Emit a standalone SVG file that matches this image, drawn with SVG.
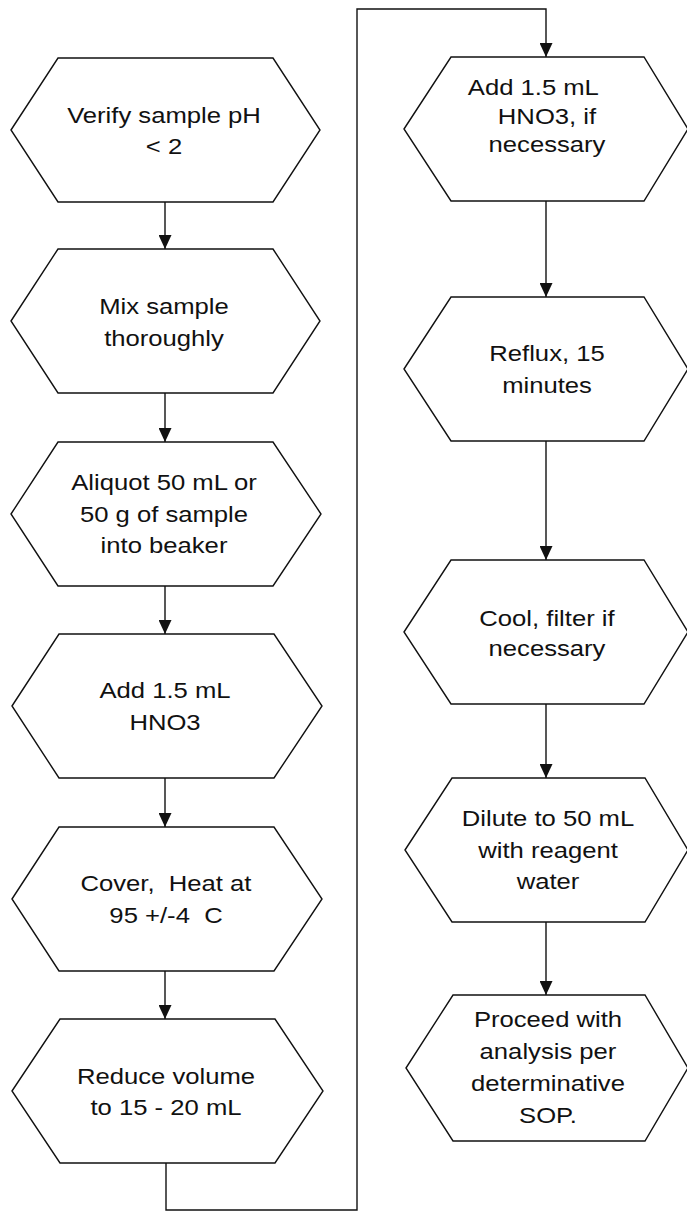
<svg xmlns="http://www.w3.org/2000/svg" width="687" height="1213" viewBox="0 0 687 1213">
  <style>
    .hex { fill: #ffffff; stroke: #111111; stroke-width: 1.4; stroke-linejoin: miter; }
    .wire { fill: none; stroke: #111111; stroke-width: 1.4; }
    .lbl { font-family: "Liberation Sans", Arial, sans-serif; font-size: 22.5px; fill: #111111; text-anchor: middle; }
  </style>
  <defs>
    <marker id="arrow" markerUnits="userSpaceOnUse" markerWidth="14" markerHeight="13" refX="14" refY="6.5" orient="auto" viewBox="0 0 14 13">
      <path d="M0,0 L14,6.5 L0,13 Z" fill="#111111"/>
    </marker>
  </defs>

  <rect width="687" height="1213" fill="#ffffff"/>

  <!-- connectors -->
  <g id="connectors">
    <line class="wire" x1="165" y1="202" x2="165" y2="249" marker-end="url(#arrow)"/>
    <line class="wire" x1="165" y1="393" x2="165" y2="442" marker-end="url(#arrow)"/>
    <line class="wire" x1="165" y1="586" x2="165" y2="634" marker-end="url(#arrow)"/>
    <line class="wire" x1="165" y1="778" x2="165" y2="827" marker-end="url(#arrow)"/>
    <line class="wire" x1="165" y1="971" x2="165" y2="1019" marker-end="url(#arrow)"/>
    <polyline class="wire" points="166,1163 166,1210 357,1210 357,9 546,9 546,57" marker-end="url(#arrow)"/>
    <line class="wire" x1="546" y1="201" x2="546" y2="297" marker-end="url(#arrow)"/>
    <line class="wire" x1="546" y1="441" x2="546" y2="560" marker-end="url(#arrow)"/>
    <line class="wire" x1="546" y1="704" x2="546" y2="778" marker-end="url(#arrow)"/>
    <line class="wire" x1="546" y1="922" x2="546" y2="995" marker-end="url(#arrow)"/>
  </g>

  <!-- left column -->
  <g id="verify-ph">
    <polygon class="hex" points="11,130 58,58 273,58 320,130 273,202 58,202"/>
    <text class="lbl" transform="matrix(1.14 0 0 1 164 0)"><tspan x="0" y="123">Verify sample pH</tspan><tspan x="0" y="154">&lt; 2</tspan></text>
  </g>
  <g id="mix-sample">
    <polygon class="hex" points="11,321 58,249 273,249 320,321 273,393 58,393"/>
    <text class="lbl" transform="matrix(1.14 0 0 1 164 0)"><tspan x="0" y="314">Mix sample</tspan><tspan x="0" y="346">thoroughly</tspan></text>
  </g>
  <g id="aliquot">
    <polygon class="hex" points="11,514 58,442 273,442 321,514 273,586 58,586"/>
    <text class="lbl" transform="matrix(1.14 0 0 1 164 0)"><tspan x="0" y="490">Aliquot 50 mL or</tspan><tspan x="0" y="522">50 g of sample</tspan><tspan x="0" y="553">into beaker</tspan></text>
  </g>
  <g id="add-hno3">
    <polygon class="hex" points="12,706 59,634 274,634 322,706 274,778 59,778"/>
    <text class="lbl" transform="matrix(1.14 0 0 1 165 0)"><tspan x="0" y="698">Add 1.5 mL</tspan><tspan x="0" y="730">HNO3</tspan></text>
  </g>
  <g id="cover-heat">
    <polygon class="hex" points="12,899 59,827 274,827 322,899 274,971 59,971"/>
    <text class="lbl" xml:space="preserve" transform="matrix(1.14 0 0 1 166 0)"><tspan x="0" y="891">Cover,  Heat at</tspan><tspan x="0" y="923">95 +/-4  C</tspan></text>
  </g>
  <g id="reduce-volume">
    <polygon class="hex" points="12,1091 60,1019 275,1019 323,1091 275,1163 60,1163"/>
    <text class="lbl" transform="matrix(1.14 0 0 1 166 0)"><tspan x="0" y="1084">Reduce volume</tspan><tspan x="0" y="1115">to 15 - 20 mL</tspan></text>
  </g>

  <!-- right column -->
  <g id="add-hno3-if-necessary">
    <polygon class="hex" points="404,129 451,57 644,57 688,129 644,201 451,201"/>
    <text class="lbl" transform="matrix(1.14 0 0 1 547 0)"><tspan x="-12" y="95">Add 1.5 mL</tspan><tspan x="0" y="124">HNO3, if</tspan><tspan x="0" y="152">necessary</tspan></text>
  </g>
  <g id="reflux">
    <polygon class="hex" points="404,369 451,297 644,297 688,369 644,441 451,441"/>
    <text class="lbl" transform="matrix(1.14 0 0 1 547 0)"><tspan x="0" y="361">Reflux, 15</tspan><tspan x="0" y="393">minutes</tspan></text>
  </g>
  <g id="cool-filter">
    <polygon class="hex" points="404,632 451,560 644,560 688,632 644,704 451,704"/>
    <text class="lbl" transform="matrix(1.14 0 0 1 547 0)"><tspan x="0" y="626">Cool, filter if</tspan><tspan x="0" y="656">necessary</tspan></text>
  </g>
  <g id="dilute">
    <polygon class="hex" points="405,850 452,778 645,778 688,850 645,922 452,922"/>
    <text class="lbl" transform="matrix(1.14 0 0 1 548 0)"><tspan x="0" y="826">Dilute to 50 mL</tspan><tspan x="0" y="858">with reagent</tspan><tspan x="0" y="889">water</tspan></text>
  </g>
  <g id="proceed-analysis">
    <polygon class="hex" points="406,1068 453,995 645,995 688,1068 645,1141 453,1141"/>
    <text class="lbl" transform="matrix(1.14 0 0 1 548 0)"><tspan x="0" y="1027">Proceed with</tspan><tspan x="0" y="1059">analysis per</tspan><tspan x="0" y="1091">determinative</tspan><tspan x="0" y="1123">SOP.</tspan></text>
  </g>
</svg>
